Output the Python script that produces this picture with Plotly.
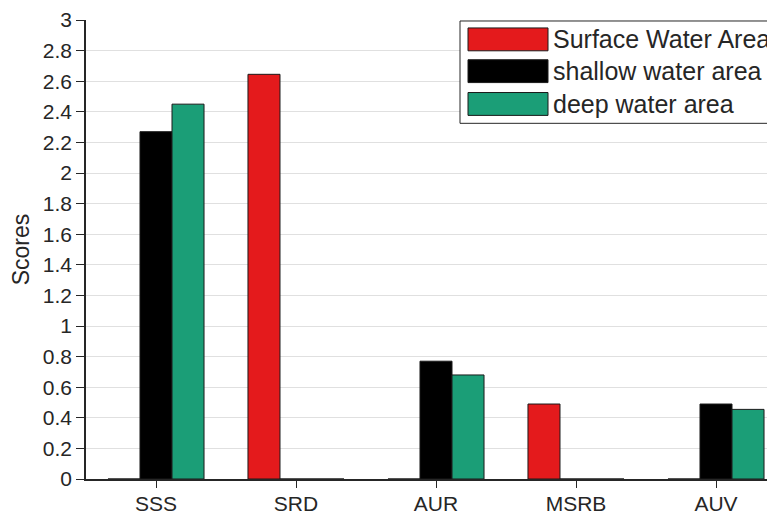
import plotly.graph_objects as go

# === Data ===
categories = ["SSS", "SRD", "AUR", "MSRB", "AUV"]
surface_water = [0, 2.645, 0, 0.49, 0]
shallow_water = [2.27, 0, 0.77, 0, 0.49]
deep_water = [2.45, 0, 0.68, 0, 0.455]

series_names = ["Surface Water Area", "shallow water area", "deep water area"]
series_values = [surface_water, shallow_water, deep_water]
series_colors = ["#E41A1C", "#000000", "#1B9E77"]

y_ticks = [round(i * 0.2, 1) for i in range(16)]

# === Layout helpers ===
# the html page has an 8px body margin, so window pixels are offset by 8
OFF = 8
W, H = 775, 515
ML, MR, MT, MB = 86 - OFF, 0, 17 - OFF, H + OFF - 479
PW, PH = W - ML - MR, H - MT - MB
CAT_PX = 140.0  # pixels per category step


def px(x):
    return (x - OFF - ML) / PW


def py(y):
    return (H - MB - (y - OFF)) / PH


axis_col = "#262626"
font = "Liberation Sans, Arial, sans-serif"

fig = go.Figure()
for name, vals, col in zip(series_names, series_values, series_colors):
    fig.add_trace(go.Bar(
        x=categories, y=vals, name=name,
        marker=dict(color=col, line=dict(color="#1a1a1a", width=1)),
        showlegend=False,
    ))

# Hand-drawn legend box to match the big MATLAB swatches
shapes = [dict(type="rect", xref="paper", yref="paper",
               x0=px(460), x1=px(830), y0=py(121), y1=py(18),
               line=dict(color=axis_col, width=1), fillcolor="white", layer="above")]
annotations = []
row_tops = [25, 57, 90]
for name, col, top in zip(series_names, series_colors, row_tops):
    shapes.append(dict(type="rect", xref="paper", yref="paper",
                       x0=px(468), x1=px(548), y0=py(top + 23), y1=py(top),
                       line=dict(color="#1a1a1a", width=1), fillcolor=col, layer="above"))
    annotations.append(dict(xref="paper", yref="paper", x=px(551), y=py(top + 11.5),
                            text=name, showarrow=False, xanchor="left", yanchor="middle",
                            font=dict(size=25, color=axis_col, family=font)))

fig.update_layout(
    width=W, height=H,
    margin=dict(l=ML, r=MR, t=MT, b=MB, pad=0),
    paper_bgcolor="white", plot_bgcolor="white",
    barmode="group", bargap=0.314, bargroupgap=0,
    font=dict(family=font, size=21, color=axis_col),
    shapes=shapes, annotations=annotations,
    xaxis=dict(
        range=[-0.5, -0.5 + PW / CAT_PX], showgrid=False, showline=True,
        linecolor=axis_col, linewidth=1.5,
        ticks="outside", ticklen=7, tickcolor=axis_col, tickwidth=1,
        tickfont=dict(size=21, color=axis_col), zeroline=False,
        ticklabeloverflow="allow", ticklabelstandoff=-2,
    ),
    yaxis=dict(
        range=[0, 3], tickvals=y_ticks, showgrid=True, gridcolor="#e0e0e0", gridwidth=1,
        showline=True, linecolor=axis_col, linewidth=1.5, zeroline=False,
        ticks="outside", ticklen=8, tickcolor=axis_col, tickwidth=1,
        tickfont=dict(size=21, color=axis_col), ticklabeloverflow="allow",
        title=dict(text="Scores", font=dict(size=23, color=axis_col), standoff=8),
    ),
)

fig.write_html("out.html")
